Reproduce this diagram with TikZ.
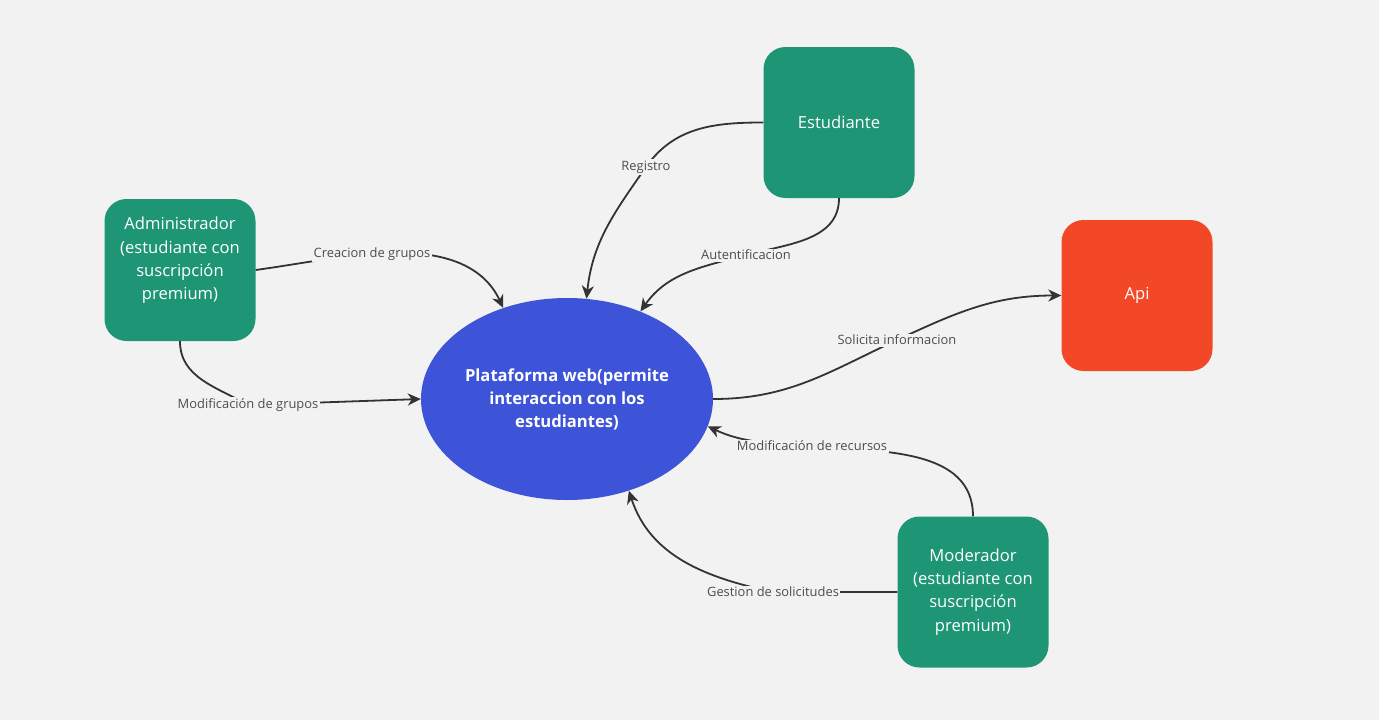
\documentclass[tikz,border=0pt]{standalone}
\usepackage{fontspec}
\setmainfont{Open Sans}
\usetikzlibrary{shapes.geometric,arrows.meta}
\definecolor{bg}{HTML}{F2F2F2}
\definecolor{actgreen}{HTML}{1E9676}
\definecolor{apired}{HTML}{F24827}
\definecolor{platblue}{HTML}{3E54D8}
\definecolor{linegray}{HTML}{333333}
\definecolor{lbltext}{HTML}{4D4D4D}
\tikzset{
  actor/.style={rectangle, rounded corners=22pt, fill=actgreen, text=white,
    minimum width=151pt, minimum height=151pt, inner sep=0pt, align=center,
    font=\fontsize{16.6}{23.3}\selectfont},
  plat/.style={ellipse, fill=platblue, text=white, minimum width=292pt,
    minimum height=202pt, inner sep=0pt, align=center,
    font=\bfseries\fontsize{16.6}{23}\selectfont},
  lbl/.style={fill=bg, text=lbltext, inner sep=1.5pt,
    font=\fontsize{12.9}{15}\selectfont},
  conn/.style={draw=linegray, line width=1.8pt,
    -{Stealth[length=13pt,width=12pt,inset=4pt]}}
}
\begin{document}
\begin{tikzpicture}[x=1pt,y=-1pt]
\fill[bg] (0,0) rectangle (1379,720);
\useasboundingbox (0,0) rectangle (1379,720);

% main nodes
\node[actor, minimum height=142pt] (adm) at (180,270) {Administrador\\(estudiante con\\suscripción\\premium)\\\mbox{}};
\node[actor] (est) at (839,122.5) {Estudiante};
\node[actor, fill=apired] (api) at (1137,295.5) {Api};
\node[actor] (mod) at (973,592) {Moderador\\(estudiante con\\suscripción\\premium)};
\node[plat] (ell) at (567,399) {Plataforma web(permite\\interaccion con los\\estudiantes)};

% label positions
\coordinate (c1) at (372,254);
\coordinate (c2) at (248,405);
\coordinate (c3) at (646,167);
\coordinate (c4) at (746,255);
\coordinate (c5) at (897,340);
\coordinate (c6) at (812,446);
\coordinate (c7) at (773,592);

% connectors
\draw[conn] (adm.east) to[out=8,in=185] (c1) to[out=5,in=115] (ell.125.6);
\draw[conn] (adm.south) to[out=-90,in=150] (c2) to[out=2,in=182] (ell.west);
\draw[conn] (est.west) to[out=180,in=55] (c3) to[out=235,in=84] (ell.79);
\draw[conn] (est.south) to[out=-90,in=15] (c4) to[out=195,in=55] (ell.50.6);
\draw[conn] (ell.east) to[out=0,in=205] (c5) to[out=25,in=180] (api.west);
\draw[conn] (mod.north) to[out=90,in=-5] (c6) to[out=175,in=-25] (ell.-11.6);
\draw[conn] (mod.west) -- (c7) to[out=168,in=-72] (ell.-56.7);

% labels
\node[lbl] (l1) at (c1) {Creacion de grupos};
\node[lbl] (l2) at (c2) {Modificación de grupos};
\node[lbl] (l3) at (c3) {Registro};
\node[lbl] (l4) at (c4) {Autentificacion};
\node[lbl] (l5) at (c5) {Solicita informacion};
\node[lbl] (l6) at (c6) {Modificación de recursos};
\node[lbl] (l7) at (c7) {Gestion de solicitudes};
\end{tikzpicture}
\end{document}
